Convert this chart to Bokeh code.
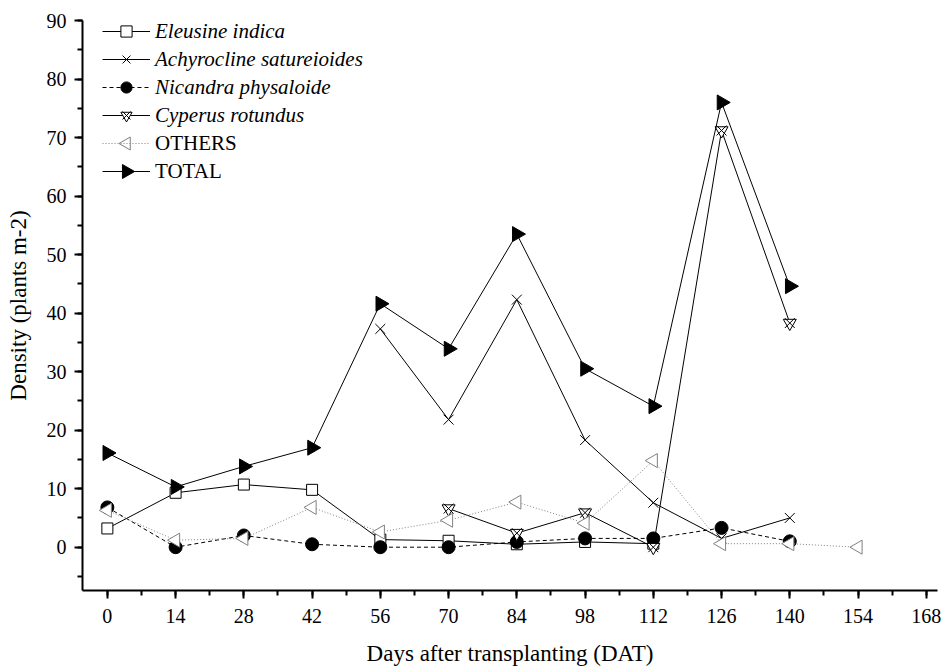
import math

from bokeh.plotting import figure
from bokeh.models import Range1d, FixedTicker, Legend, LegendItem
from bokeh.embed import file_html
from bokeh.resources import INLINE

# Weed density (plants m-2) by days after transplanting
eleusine_days = [0, 14, 28, 42, 56, 70, 84, 98, 112]
eleusine = [3.2, 9.3, 10.7, 9.8, 1.3, 1.1, 0.5, 0.9, 0.6]

achyrocline_days = [56, 70, 84, 98, 112, 126, 140]
achyrocline = [37.3, 21.8, 42.3, 18.3, 7.6, 1.5, 5.0]

nicandra_days = [0, 14, 28, 42, 56, 70, 84, 98, 112, 126, 140]
nicandra = [6.8, 0.0, 2.0, 0.5, 0.0, 0.0, 0.9, 1.5, 1.5, 3.3, 1.0]

cyperus_days = [70, 84, 98, 112, 126, 140]
cyperus = [6.6, 2.4, 5.9, 0.0, 71.2, 38.3]

others_days = [0, 14, 28, 42, 56, 70, 84, 98, 112, 126, 140, 154]
others = [6.3, 1.2, 1.5, 6.8, 2.6, 4.6, 7.7, 4.1, 14.8, 0.6, 0.6, 0.0]

total_days = [0, 14, 28, 42, 56, 70, 84, 98, 112, 126, 140]
total = [16.1, 10.3, 13.8, 17.0, 41.6, 33.9, 53.5, 30.5, 24.1, 76.0, 44.6]

x_ticks = list(range(0, 169, 14))
y_ticks = list(range(0, 91, 10))

FONT = "Liberation Serif"

# frame geometry (pixels) and data extents
W, H = 946, 670
LEFT, RIGHT, TOP, BOTTOM = 82, 9, 20, 80
X0, X1 = -5.1, 170.3
Y0, Y1 = -7.4, 90.0

p = figure(
    width=W, height=H,
    x_range=Range1d(X0, X1), y_range=Range1d(Y0, Y1),
    output_backend="svg", toolbar_location=None,
    min_border_left=LEFT, min_border_right=RIGHT,
    min_border_top=TOP, min_border_bottom=BOTTOM,
)
p.outline_line_color = None
p.xgrid.visible = False
p.ygrid.visible = False
p.background_fill_color = "white"
p.border_fill_color = "white"

# axes
p.xaxis.ticker = FixedTicker(ticks=x_ticks, minor_ticks=list(range(0, 171, 7)))
p.yaxis.ticker = FixedTicker(ticks=y_ticks, minor_ticks=list(range(-5, 91, 5)))
for ax in (p.xaxis[0], p.yaxis[0]):
    ax.axis_line_width = 2
    ax.major_tick_line_width = 2
    ax.minor_tick_line_width = 2
    ax.major_tick_in = 0
    ax.major_tick_out = 8
    ax.minor_tick_in = 0
    ax.minor_tick_out = 5
    ax.major_label_text_font = FONT
    ax.major_label_text_font_size = "20px"
    ax.major_label_text_color = "black"
    ax.axis_label_text_font = FONT
    ax.axis_label_text_font_size = "23px"
    ax.axis_label_text_font_style = "normal"
    ax.axis_label_text_color = "black"
p.xaxis.axis_label = "Days after transplanting (DAT)"
p.yaxis.axis_label = "Density (plants m-2)"
p.xaxis.major_label_standoff = 10
p.yaxis.major_label_standoff = 8
p.xaxis.axis_label_standoff = 15
p.yaxis.axis_label_standoff = 13

# series
e_line = p.line(eleusine_days, eleusine, line_color="black", line_width=1)
e_mk = p.scatter(eleusine_days, eleusine, marker="square", size=11,
                 line_color="black", fill_color="white", line_width=1)

a_line = p.line(achyrocline_days, achyrocline, line_color="black", line_width=1)
a_mk = p.scatter(achyrocline_days, achyrocline, marker="x", size=14,
                 line_color="black", line_width=1)

n_line = p.line(nicandra_days, nicandra, line_color="black", line_width=1,
                line_dash="4 3")
n_mk = p.scatter(nicandra_days, nicandra, marker="circle", size=13,
                 line_color="black", fill_color="black")

c_line = p.line(cyperus_days, cyperus, line_color="black", line_width=1)
c_tri = p.scatter(cyperus_days, cyperus, marker="inverted_triangle", size=13,
                  line_color="black", fill_color="white", line_width=1)
c_x = p.scatter(cyperus_days, cyperus, marker="x", size=14,
                line_color="black", line_width=1)

o_line = p.line(others_days, others, line_color="#808080", line_width=1,
                line_dash="1 2")
o_mk = p.scatter(others_days, others, marker="triangle", size=14, angle=math.pi / 2,
                 line_color="#808080", fill_color="white", line_width=1)

t_line = p.line(total_days, total, line_color="black", line_width=1)
t_mk = p.scatter(total_days, total, marker="triangle", size=15, angle=-math.pi / 2,
                 line_color="black", fill_color="black")

# legends: species names in italics, group totals upright
ROW = 28
GLYPH_W = 48
LEG_X = 20            # legend left edge, px from frame left
LEG1_TOP = 17         # legend top edges, px from canvas top
LEG2_TOP = LEG1_TOP + 4 * ROW
frame_h = H - TOP - BOTTOM
frame_w = W - LEFT - RIGHT

common = dict(
    glyph_width=GLYPH_W, glyph_height=ROW, label_height=ROW, label_standoff=5,
    spacing=0, padding=0, margin=0, border_line_color=None,
    background_fill_alpha=0, label_text_font=FONT, label_text_font_size="21px",
    label_text_color="black",
)
leg1 = Legend(
    items=[
        LegendItem(label="Eleusine indica", renderers=[e_line, e_mk]),
        LegendItem(label="Achyrocline satureioides", renderers=[a_line, a_mk]),
        LegendItem(label="Nicandra physaloide", renderers=[n_line, n_mk]),
        LegendItem(label="Cyperus rotundus", renderers=[c_line, c_tri, c_x]),
    ],
    location=(LEG_X, frame_h - (LEG1_TOP - TOP) - 4 * ROW),
    label_text_font_style="italic", **common,
)
# the legend draws markers unrotated, so these two carry only their lines
leg2 = Legend(
    items=[
        LegendItem(label="OTHERS", renderers=[o_line]),
        LegendItem(label="TOTAL", renderers=[t_line]),
    ],
    location=(LEG_X, frame_h - (LEG2_TOP - TOP) - 2 * ROW),
    label_text_font_style="normal", **common,
)
p.add_layout(leg1)
p.add_layout(leg2)

# rotated triangle keys placed at the centre of each legend glyph
def px_to_x(px):
    return X0 + (px - LEFT) * (X1 - X0) / frame_w

def py_to_y(py):
    return Y1 - (py - TOP) * (Y1 - Y0) / frame_h

key_x = px_to_x(LEFT + LEG_X + GLYPH_W / 2)
key_y_others = py_to_y(LEG2_TOP + ROW / 2)
key_y_total = py_to_y(LEG2_TOP + 1.5 * ROW)
p.scatter([key_x], [key_y_others], marker="triangle", size=13, angle=math.pi / 2,
          line_color="#808080", fill_color="white", line_width=1)
p.scatter([key_x], [key_y_total], marker="triangle", size=14, angle=-math.pi / 2,
          line_color="black", fill_color="black")

open("out.html", "w").write(file_html(p, INLINE))
